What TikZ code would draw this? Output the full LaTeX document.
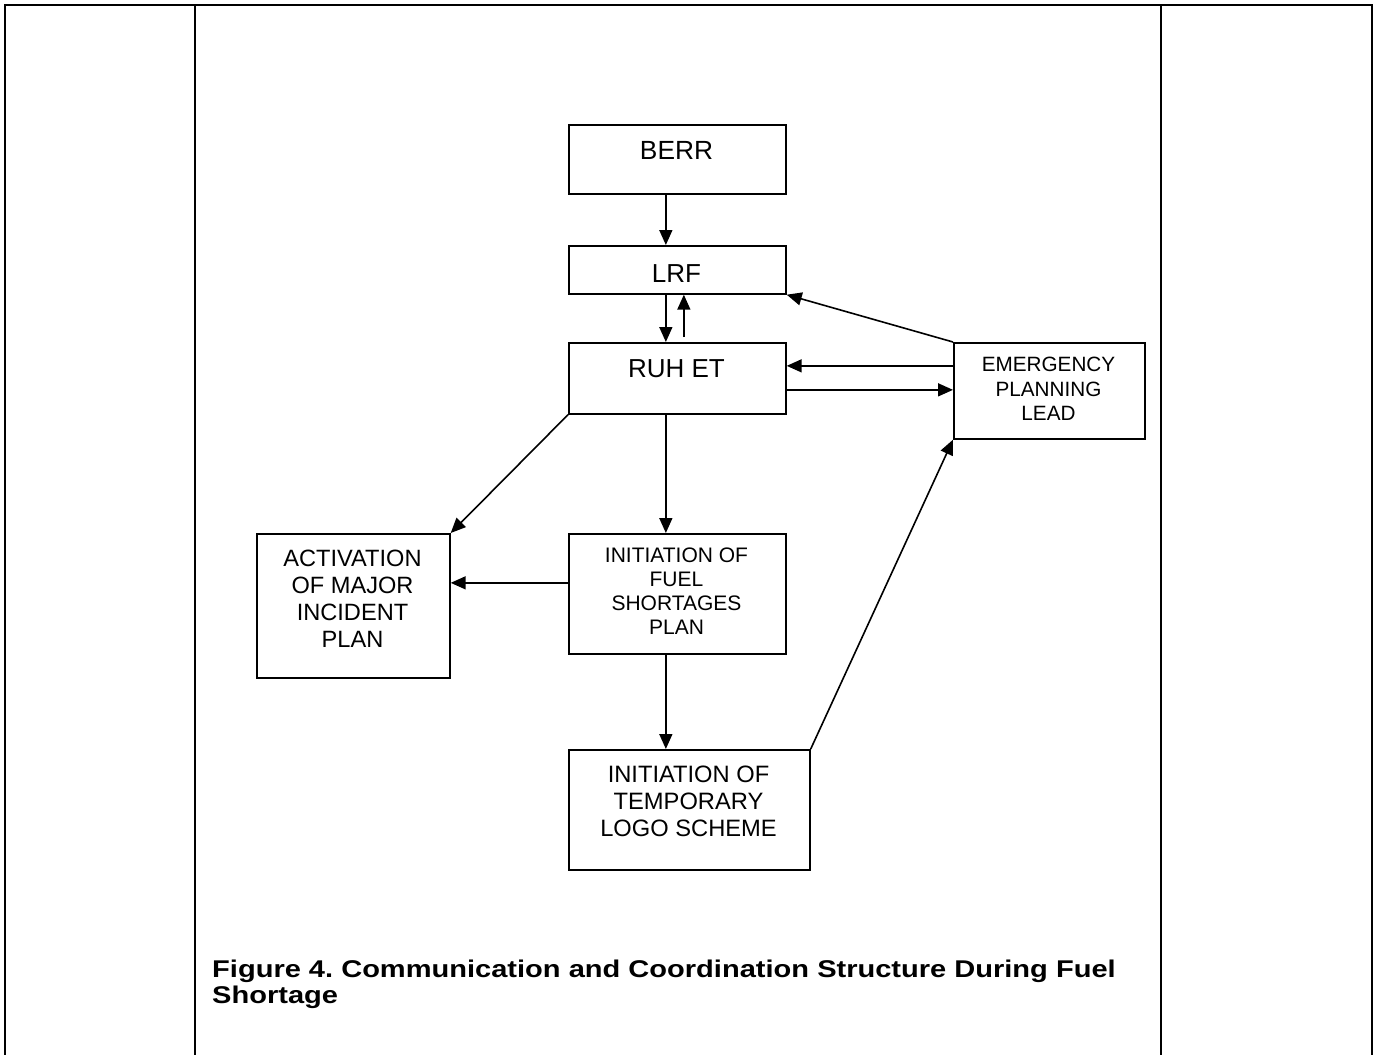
\documentclass[tikz,border=0pt]{standalone}
\usepackage{fontspec}
\setmainfont{Liberation Sans}
\usetikzlibrary{arrows.meta}
\frenchspacing
\tikzset{
  box/.style={draw, line width=1.7pt, inner sep=0pt, anchor=north west},
  arr/.style={line width=1.6pt, -{Triangle[length=15pt,width=13pt]}},
  tab/.style={line width=2.3pt},
  lbl/.style={inner sep=0pt, align=center},
  captxt/.style={inner sep=0pt, anchor=base west, font=\bfseries\fontsize{24.2}{27}\selectfont},
}
\begin{document}
\begin{tikzpicture}[x=1pt,y=-1pt]
\useasboundingbox (0,0) rectangle (1379,1055);
% table frame
\draw[tab] (5,1055) -- (5,5) -- (1372,5) -- (1372,1055);
\draw[tab] (195,5) -- (195,1055);
\draw[tab] (1161,5) -- (1161,1055);
% boxes
\node[box, minimum width=217pt, minimum height=69pt] (berr) at (568,124) {};
\node[box, minimum width=217pt, minimum height=48pt] (lrf) at (568,245) {};
\node[box, minimum width=217pt, minimum height=71pt] (ruh) at (568,342) {};
\node[box, minimum width=191pt, minimum height=96pt] (epl) at (953,342) {};
\node[box, minimum width=193pt, minimum height=144pt] (act) at (256,533) {};
\node[box, minimum width=217pt, minimum height=120pt] (fuel) at (568,533) {};
\node[box, minimum width=241pt, minimum height=120pt] (temp) at (568,749) {};
% texts
\node[lbl, anchor=base, font=\fontsize{26.3}{30}\selectfont] (berrT) at (676.5,159) {BERR};
\node[lbl, anchor=base, font=\fontsize{26}{30}\selectfont] (lrfT) at (676.5,282) {LRF};
\node[lbl, anchor=base, font=\fontsize{26}{30}\selectfont] (ruhT) at (676.5,377) {RUH ET};
\node[lbl, anchor=north, font=\fontsize{20.7}{24.5}\selectfont] (eplT) at (1048.5,356.9) {EMERGENCY\\PLANNING\\LEAD};
\node[lbl, anchor=north, font=\fontsize{23.6}{27}\selectfont] (actT) at (352.5,549.8) {ACTIVATION\\OF MAJOR\\INCIDENT\\PLAN};
\node[lbl, anchor=north, font=\fontsize{21}{24}\selectfont] (fuelT) at (676.5,547.7) {INITIATION OF\\FUEL\\SHORTAGES\\PLAN};
\node[lbl, anchor=north, font=\fontsize{23.7}{27}\selectfont] (tempT) at (688.5,765.7) {INITIATION OF\\TEMPORARY\\LOGO SCHEME};
% caption
\node[captxt] (cap1) at (212,977) {\scalebox{1.2}[1]{Figure 4. Communication and Coordination Structure During Fuel}};
\node[captxt] (cap2) at (212,1003) {\scalebox{1.2}[1]{Shortage}};
% connectors
\draw[arr] ([xshift=-11.5pt]berr.south) -- ([xshift=-11.5pt]lrf.north);
\draw[arr] ([xshift=-11.5pt]lrf.south) -- ([xshift=-11.5pt]ruh.north);
\draw[arr] ([xshift=6.5pt,yshift=5pt]ruh.north) -- ([xshift=6.5pt]lrf.south);
\draw[arr] (epl.north west) -- (lrf.south east);
\draw[arr] ([yshift=25pt]epl.west) -- ([yshift=25pt]epl.west -| ruh.east);
\draw[arr] ([yshift=-11.5pt]ruh.east) -- ([yshift=-11.5pt]ruh.east -| epl.west);
\draw[arr] (ruh.south west) -- (act.north east);
\draw[arr] ([xshift=-11.5pt]ruh.south) -- ([xshift=-11.5pt]fuel.north);
\draw[arr] ([yshift=11pt]fuel.west) -- ([yshift=11pt]fuel.west -| act.east);
\draw[arr] ([xshift=-11.5pt]fuel.south) -- ([xshift=-11.5pt]fuel.south |- temp.north);
\draw[arr] (temp.north east) -- (epl.south west);
\end{tikzpicture}
\end{document}
